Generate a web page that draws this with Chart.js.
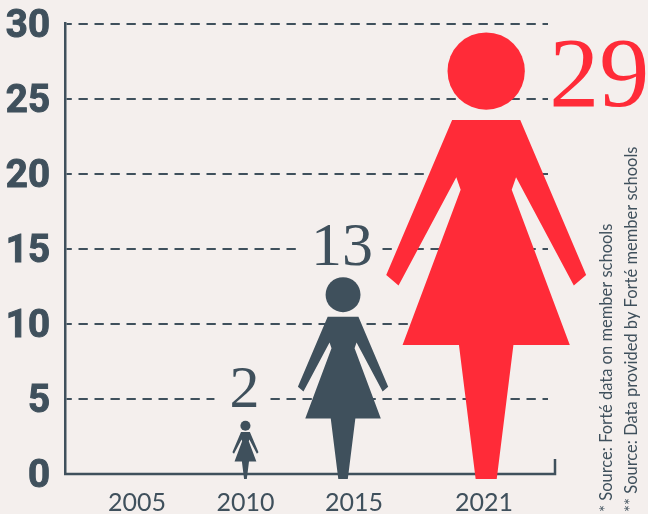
<!DOCTYPE html>
<html>
<head>
<meta charset="utf-8">
<style>
  html, body { margin: 0; padding: 0; background: #f4efed; }
  canvas { display: block; }
</style>
</head>
<body>
<canvas id="chart" width="648" height="514"></canvas>
<script src="https://cdn.jsdelivr.net/npm/chart.js@4/dist/chart.umd.min.js"></script>
<script>
const tickYears = [2005, 2010, 2015, 2021];
const yTicks = [0, 5, 10, 15, 20, 25, 30];
const figureYears = [2010, 2014.5, 2021.1];
const values = [2, 13, 29];
// the figures in the picture are not quite to scale, so top/bottom are read off separately
const figureTops = [3.55, 13.1, 29.4];
const figureBottom = -0.33;
const sources = ['* Source: Forté data on member schools', '** Source: Data provided by Forté member schools'];

const DARK = '#3f505c';
const RED = '#ff2b38';
const BG = '#f4efed';
const barColors = [DARK, DARK, RED];

// outline of half the figure, fractions of the figure height
const halfShape = [
  [0.0763, 0.1958], [0.2239, 0.5430], [0.1963, 0.5664], [0.0669, 0.3240],
  [0.0572, 0.3520], [0.1873, 0.6997], [0.0610, 0.6997], [0.0236, 1]
];
const headY = 0.0864;
const headR = 0.0866;

// font size, x offset and baseline offset for the number next to each figure
const labelStyle = [
  { size: 60, dx: -1, top: 14, mask: [-31, 24] },
  { size: 62, dx: -1, top: 12, mask: [-46, 38] },
  { size: 100, dx: 113, top: -73, mask: null }
];

const figures = {
  id: 'figures',
  beforeDatasetsDraw(chart) {
    const ctx = chart.ctx;
    const y0 = chart.scales.y.getPixelForValue(0);
    const right = chart.chartArea.right + 7;
    // bottom axis runs past the grid and turns up at the end
    ctx.save();
    ctx.strokeStyle = DARK;
    ctx.lineWidth = 2.5;
    ctx.beginPath();
    ctx.moveTo(right, y0 - 15);
    ctx.lineTo(right, y0);
    ctx.lineTo(chart.chartArea.left - 1, y0);
    ctx.stroke();
    ctx.restore();
  },
  afterDatasetsDraw(chart) {
    const ctx = chart.ctx;
    chart.getDatasetMeta(0).data.forEach((bar, i) => {
      const p = bar.getProps(['x', 'y', 'base'], true);
      const h = p.base - p.y;
      const style = labelStyle[i];
      const baseline = p.y - style.top;
      ctx.save();
      if (style.mask) {
        ctx.fillStyle = BG;
        ctx.fillRect(p.x + style.mask[0], baseline - style.size * 0.72, style.mask[1] - style.mask[0], style.size * 0.72);
      }
      ctx.fillStyle = barColors[i];
      ctx.beginPath();
      ctx.arc(p.x, p.y + headY * h, headR * h, 0, Math.PI * 2);
      ctx.fill();
      ctx.beginPath();
      halfShape.forEach(([dx, dy]) => ctx.lineTo(p.x - dx * h, p.y + dy * h));
      halfShape.slice().reverse().forEach(([dx, dy]) => ctx.lineTo(p.x + dx * h, p.y + dy * h));
      ctx.closePath();
      ctx.fill();
      ctx.font = style.size + 'px "Liberation Serif"';
      ctx.textAlign = 'center';
      ctx.textBaseline = 'alphabetic';
      ctx.fillText(String(values[i]), p.x + style.dx, baseline);
      ctx.restore();
    });
  },
  afterDraw(chart) {
    const ctx = chart.ctx;
    // source notes
    ctx.save();
    ctx.fillStyle = DARK;
    ctx.font = '16.5px Lato';
    ctx.textAlign = 'left';
    ctx.textBaseline = 'middle';
    [607, 632].forEach((x, i) => {
      ctx.save();
      ctx.translate(x, 512);
      ctx.rotate(-Math.PI / 2);
      ctx.fillText(sources[i], 0, 0);
      ctx.restore();
    });
    ctx.restore();
  }
};

new Chart(document.getElementById('chart'), {
  type: 'bar',
  data: {
    datasets: [{
      data: figureYears.map((year, i) => ({ x: year, y: [figureBottom, figureTops[i]] })),
      backgroundColor: 'transparent',
      barThickness: 10
    }]
  },
  options: {
    responsive: false,
    animation: false,
    layout: { padding: { top: 23.5, right: 100, left: 0, bottom: 0 } },
    plugins: { legend: { display: false }, tooltip: { enabled: false }, title: { display: false } },
    scales: {
      x: {
        type: 'linear',
        offset: false,
        min: 2001.68,
        max: 2023.95,
        afterBuildTicks(scale) { scale.ticks = tickYears.map(value => ({ value })); },
        afterFit(scale) { scale.height = 40; },
        grid: { display: false, offset: false },
        border: { display: false },
        ticks: {
          autoSkip: false,
          maxRotation: 0,
          padding: 6,
          color: DARK,
          font: { family: 'Lato', size: 25 },
          callback: value => String(value)
        }
      },
      y: {
        min: 0,
        max: 30,
        afterBuildTicks(scale) { scale.ticks = yTicks.map(value => ({ value })); },
        afterFit(scale) {
          scale.width = 65;
          scale.paddingTop = 0;
          scale.paddingBottom = 0;
        },
        grid: {
          drawTicks: false,
          lineWidth: 2,
          color: ctx => ctx.tick.value === 0 ? 'transparent' : DARK
        },
        border: { color: DARK, width: 2.5, dash: [9.3, 6.7], dashOffset: 4, display: true },
        ticks: {
          padding: 15,
          color: DARK,
          textStrokeColor: DARK,
          textStrokeWidth: 1,
          // empty first line pushes the number a few px below its grid line
          callback: value => ['', String(value)],
          font: { family: 'Roboto', size: 38.5, weight: 'bold', lineHeight: '7px' }
        }
      }
    }
  },
  plugins: [figures]
});
</script>
</body>
</html>
